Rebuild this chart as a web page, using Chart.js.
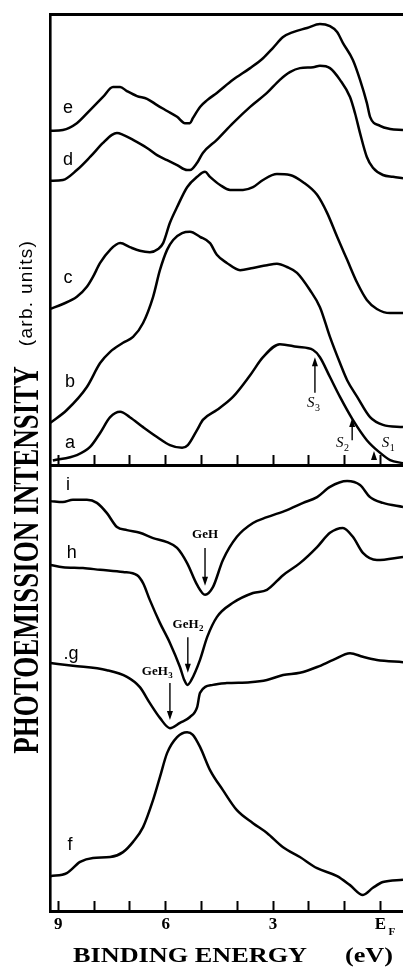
<!DOCTYPE html>
<html><head><meta charset="utf-8">
<script src="https://cdn.jsdelivr.net/npm/chart.js@4"></script>
<style>
html,body{margin:0;padding:0;background:#fff;}
#wrap{position:relative;width:403px;height:971px;overflow:hidden;background:#fff;}
canvas{position:absolute;left:0;}
#cTop{top:0;width:403px;height:480px;}
#cBot{top:450px;width:403px;height:521px;}
.t{position:absolute;white-space:nowrap;color:#000;line-height:1;}
#ytitle{left:27px;top:560px;font:bold 27px "Liberation Serif",serif;transform:translate(-50%,-50%) scaleX(1.3) rotate(-90deg);}
#yunits{left:26px;top:293px;font:19px "Liberation Sans",sans-serif;letter-spacing:1.3px;transform:translate(-50%,-50%) rotate(-90deg);}
#xtitle1{left:190px;top:955px;font:bold 21px "Liberation Serif",serif;transform:translate(-50%,-50%) scaleX(1.25);}
#xtitle2{left:369px;top:955px;font:bold 21px "Liberation Serif",serif;transform:translate(-50%,-50%) scaleX(1.25);}
</style></head><body>
<div id="wrap">
<canvas id="cTop" width="403" height="480"></canvas>
<canvas id="cBot" width="403" height="521"></canvas>
<div class="t" id="ytitle">PHOTOEMISSION INTENSITY</div>
<div class="t" id="yunits">(arb. units)</div>
<div class="t" id="xtitle1">BINDING ENERGY</div>
<div class="t" id="xtitle2">(eV)</div>
</div>
<script>
// ---- axis ----
const energyTicks = [9,8,7,6,5,4,3,2,1,0];
const tickLabels = ['9','','','6','','','3','','','E'];
const eMin = -0.63, eMax = 9.23;

// ---- upper panel spectra (binding energy eV, intensity arb. units) ----
const eE = [9.23,8.87,8.48,8.11,7.75,7.47,7.27,7.08,6.80,6.52,6.24,5.96,5.68,5.46,5.32,5.24,5.04,4.84,4.57,4.12,3.64,3.28,3.00,2.72,2.44,2.05,1.69,1.41,1.21,1.05,0.77,0.57,0.38,0.29,0.01,-0.27,-0.63];
const eI = [74.1,74.3,75.8,78.7,81.6,83.8,83.8,82.9,81.8,81.2,79.8,78.5,77.2,75.8,75.8,76.9,79.4,80.9,82.5,85.4,88.0,90.2,92.5,94.9,96.0,96.9,97.8,97.3,96.0,93.6,89.8,85.4,80.3,77.2,75.2,74.5,74.3];
const dE = [9.23,8.87,8.48,8.11,7.75,7.50,7.36,7.19,6.91,6.52,6.24,5.96,5.68,5.40,5.32,5.12,4.96,4.57,4.12,3.64,3.17,2.81,2.53,2.25,1.88,1.69,1.41,1.13,0.85,0.71,0.57,0.38,0.21,-0.07,-0.35,-0.63];
const dI = [63.0,63.2,65.4,68.3,71.4,73.2,73.6,73.2,72.1,70.3,68.7,67.6,66.5,65.4,65.4,67.0,69.2,72.1,75.8,79.4,82.5,85.4,87.1,88.0,88.2,88.5,88.0,85.4,81.6,78.0,73.6,68.3,65.9,64.3,63.9,63.6];
const cE = [9.23,8.87,8.48,8.20,8.03,7.83,7.55,7.27,7.00,6.72,6.44,6.21,6.07,5.88,5.68,5.40,5.12,4.90,4.76,4.48,4.20,3.84,3.56,3.28,2.89,2.53,2.16,1.77,1.49,1.21,0.93,0.65,0.38,0.10,-0.27,-0.63];
const cI = [34.6,35.7,37.3,39.5,41.7,44.8,47.7,49.2,48.3,47.5,47.2,47.9,49.2,53.7,57.2,61.6,63.9,65.0,63.9,62.1,61.0,61.0,61.6,63.2,64.5,64.3,62.7,59.9,55.9,50.6,45.5,40.4,36.6,34.6,33.7,33.7];
const bE = [9.23,8.76,8.20,7.83,7.55,7.19,6.91,6.63,6.35,6.16,5.96,5.79,5.54,5.32,5.04,4.76,4.57,4.29,3.92,3.56,3.17,2.89,2.61,2.33,1.97,1.69,1.41,1.13,0.93,0.65,0.29,-0.07,-0.63];
const bI = [9.3,12.2,17.3,22.6,25.1,27.1,28.4,31.5,37.3,43.2,47.7,49.9,51.4,51.7,50.6,49.2,46.6,44.8,43.2,43.7,44.3,44.6,43.9,42.6,38.8,35.0,28.4,22.6,18.8,15.1,10.6,8.9,8.4];
const aE = [9.15,8.48,8.11,7.83,7.55,7.27,7.00,6.63,6.24,5.88,5.54,5.38,5.12,4.96,4.57,4.12,3.64,3.28,2.81,2.33,1.88,1.69,1.41,1.13,0.77,0.38,0.01,-0.27,-0.63];
const aI = [1.0,2.2,4.0,7.1,10.6,11.8,10.6,8.4,6.2,4.4,3.8,4.4,7.8,10.0,12.2,15.1,19.9,23.9,26.8,26.2,25.5,23.9,19.5,15.1,10.0,5.5,2.7,1.1,0.4];

// ---- lower panel spectra ----
const iE = [9.22,8.87,8.59,8.20,7.92,7.64,7.36,7.08,6.72,6.35,5.96,5.68,5.40,5.12,4.90,4.68,4.40,4.01,3.56,3.17,2.61,2.16,1.77,1.41,0.93,0.57,0.29,-0.07,-0.63];
const iI = [91.9,91.7,92.2,92.2,91.5,89.2,86.1,85.4,84.8,83.6,82.7,81.4,78.0,73.1,70.9,72.6,78.7,83.9,87.0,88.3,89.9,91.5,92.8,95.1,96.4,95.5,92.8,91.5,90.6];
const hE = [9.22,8.87,8.31,7.83,7.19,6.80,6.63,6.44,6.16,5.88,5.60,5.48,5.39,5.28,5.04,4.84,4.57,4.12,3.56,3.17,2.72,2.25,1.77,1.41,1.05,0.77,0.49,0.10,-0.63];
const hI = [77.6,77.1,76.9,76.5,76.0,75.3,73.5,69.7,64.6,60.1,54.7,51.8,50.7,51.8,56.3,61.4,65.9,69.1,71.3,72.0,75.3,78.0,81.6,84.8,85.9,83.9,80.3,78.7,79.4];
const gE = [9.22,8.59,7.64,7.08,6.72,6.44,6.16,5.88,5.60,5.32,5.12,5.04,4.68,4.29,3.64,3.17,2.72,2.25,1.77,1.32,0.85,0.49,0.10,-0.63];
const gI = [55.6,55.0,54.0,52.5,50.2,46.6,43.3,41.0,42.2,43.5,45.7,48.9,50.7,51.1,51.3,51.8,52.9,53.4,54.7,56.3,57.8,57.0,56.3,55.8];
const fE = [9.22,8.76,8.39,8.03,7.55,7.19,6.91,6.63,6.35,6.16,5.96,5.68,5.40,5.24,5.04,4.76,4.40,4.01,3.56,3.17,2.72,2.25,1.77,1.21,0.85,0.49,0.21,-0.07,-0.63];
const fI = [7.8,8.5,11.0,11.9,12.1,13.2,15.5,18.8,24.9,30.0,35.4,39.0,40.1,39.5,36.8,31.6,27.1,22.6,19.7,17.5,14.3,12.1,9.6,7.8,5.8,3.6,5.2,6.5,7.0];

// ---- annotations (data coordinates) ----
const upperNames = ['e','d','c','b','a'];
const upperNameE = [8.73,8.73,8.73,8.67,8.67];
const upperNameI = [79.2,67.6,41.5,18.4,4.9];
const lowerNames = ['i','h','.g','f'];
const lowerNameE = [8.73,8.62,8.64,8.67];
const lowerNameI = [95.5,80.3,57.6,14.8];

const sSubs = ['3','2','1'];
const sLabelE = [1.88,1.07,-0.21];
const sLabelI = [13.7,4.9,4.9];
const sArrowE = [1.83,0.79];
const sArrowFrom = [16.0,5.5];
const sArrowTo = [23.9,10.4];
const s1HeadE = 0.18, s1HeadTip = 3.1;

const geSubs = ['','2','3'];
const geLabelE = [4.90,5.38,6.24];
const geLabelI = [84.3,64.1,53.6];
const geArrowE = [4.90,5.38,5.88];
const geArrowFrom = [81.4,61.4,51.1];
const geArrowTo = [72.9,53.4,42.8];

// ---- helpers ----
function pts(xs, ys){ return xs.map((x,i)=>({x:x, y:ys[i]})); }
function curve(xs, ys){
  return {data: pts(xs,ys), borderColor:'#000', borderWidth:2.5, pointRadius:0, fill:false,
          cubicInterpolationMode:'monotone', clip:false};
}
function xAxis(showLabels, h){
  return {type:'linear', reverse:true, min:eMin, max:eMax, position:'bottom',
    afterBuildTicks: s => { s.ticks = energyTicks.map(v=>({value:v})); },
    ticks:{display:showLabels, autoSkip:false, maxRotation:0, minRotation:0, padding:13, color:'#000',
      font:{family:'"Liberation Serif", serif', weight:'bold', size:17},
      callback: v => { const k = energyTicks.indexOf(v); return k<0 ? '' : tickLabels[k]; }},
    grid:{display:true, drawOnChartArea:false, drawTicks:true, tickLength:-10, tickWidth:2, tickColor:'#000'},
    border:{display:true, width:3, color:'#000'},
    afterFit: s => { s.height = h; }
  };
}
function yAxis(){
  return {type:'linear', min:0, max:100, position:'left',
    ticks:{display:false}, grid:{display:true, drawOnChartArea:false, drawTicks:false},
    border:{display:true, width:2.6, color:'#000'},
    afterFit: s => { s.width = 50; }
  };
}
function arrow(ctx, x, y0, y1){
  const dir = Math.sign(y1 - y0);
  ctx.lineWidth = 1.4;
  ctx.beginPath(); ctx.moveTo(x, y0); ctx.lineTo(x, y1 - dir*6); ctx.stroke();
  ctx.beginPath(); ctx.moveTo(x, y1); ctx.lineTo(x-3, y1-dir*9); ctx.lineTo(x+3, y1-dir*9); ctx.closePath(); ctx.fill();
}
function subText(ctx, x, y, main, sub, mainFont, subFont, dy){
  ctx.font = mainFont; const w = ctx.measureText(main).width;
  ctx.font = subFont; const ws = sub ? ctx.measureText(sub).width : 0;
  const x0 = x - (w + ws)/2;
  ctx.textAlign = 'left'; ctx.textBaseline = 'middle';
  ctx.font = mainFont; ctx.fillText(main, x0, y);
  if (sub){ ctx.font = subFont; ctx.fillText(sub, x0 + w + 0.5, y + dy); }
}

const upperAnnot = {
  id:'upperAnnot',
  afterDraw(chart){
    const ctx = chart.ctx, X = chart.scales.x, Y = chart.scales.y;
    const px = v => X.getPixelForValue(v), py = v => Y.getPixelForValue(v);
    ctx.save(); ctx.fillStyle = '#000'; ctx.strokeStyle = '#000';
    ctx.font = '18px "Liberation Sans", Arial, sans-serif'; ctx.textAlign = 'center'; ctx.textBaseline = 'middle';
    upperNames.forEach((t,i)=>ctx.fillText(t, px(upperNameE[i]), py(upperNameI[i])));
    sArrowE.forEach((e,i)=>arrow(ctx, px(e), py(sArrowFrom[i]), py(sArrowTo[i])));
    const hx = px(s1HeadE), ht = py(s1HeadTip);
    ctx.beginPath(); ctx.moveTo(hx, ht); ctx.lineTo(hx-3, ht+9); ctx.lineTo(hx+3, ht+9); ctx.closePath(); ctx.fill();
    sSubs.forEach((s,i)=>subText(ctx, px(sLabelE[i]), py(sLabelI[i]), 'S', s,
      'italic 15px "Liberation Serif", serif', '10px "Liberation Serif", serif', 5));
    ctx.restore();
  }
};
const lowerAnnot = {
  id:'lowerAnnot',
  afterDraw(chart){
    const ctx = chart.ctx, X = chart.scales.x, Y = chart.scales.y;
    const px = v => X.getPixelForValue(v), py = v => Y.getPixelForValue(v);
    ctx.save(); ctx.fillStyle = '#000'; ctx.strokeStyle = '#000';
    ctx.font = '18px "Liberation Sans", Arial, sans-serif'; ctx.textAlign = 'center'; ctx.textBaseline = 'middle';
    lowerNames.forEach((t,i)=>ctx.fillText(t, px(lowerNameE[i]), py(lowerNameI[i])));
    geArrowE.forEach((e,i)=>arrow(ctx, px(e), py(geArrowFrom[i]), py(geArrowTo[i])));
    geSubs.forEach((s,i)=>subText(ctx, px(geLabelE[i]), py(geLabelI[i]), 'GeH', s,
      'bold 13px "Liberation Serif", serif', 'bold 9px "Liberation Serif", serif', 4));
    // subscript F of E_F tick label
    ctx.font = 'bold 11px "Liberation Serif", serif'; ctx.textAlign = 'left'; ctx.textBaseline = 'middle';
    ctx.fillText('F', px(0) + 8, X.top + 21);
    ctx.restore();
  }
};

const common = {responsive:false, animation:false, devicePixelRatio:1, events:[],
  plugins:{legend:{display:false}, tooltip:{enabled:false}}};

new Chart(document.getElementById('cTop'), {
  type:'line',
  data:{datasets:[curve(eE,eI), curve(dE,dI), curve(cE,cI), curve(bE,bI), curve(aE,aI)]},
  options:Object.assign({}, common, {
    layout:{padding:{top:14, left:0, right:0, bottom:0}},
    scales:{
      x: xAxis(false, 15),
      xTop: {type:'linear', reverse:true, min:eMin, max:eMax, position:'top',
        ticks:{display:false}, grid:{display:true, drawOnChartArea:false, drawTicks:false},
        border:{display:true, width:3, color:'#000'}, afterFit: s => { s.height = 0; }},
      y: yAxis()
    }
  }),
  plugins:[upperAnnot]
});

new Chart(document.getElementById('cBot'), {
  type:'line',
  data:{datasets:[curve(iE,iI), curve(hE,hI), curve(gE,gI), curve(fE,fI)]},
  options:Object.assign({}, common, {
    layout:{padding:{top:15, left:0, right:0, bottom:0}},
    scales:{ x: xAxis(true, 60), y: yAxis() }
  }),
  plugins:[lowerAnnot]
});
</script>
</body></html>
